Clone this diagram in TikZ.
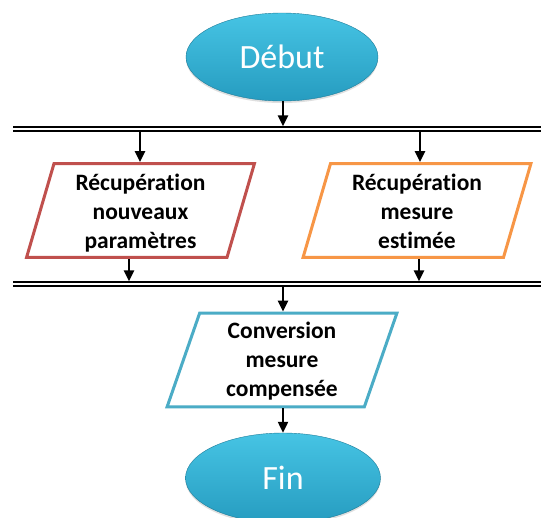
\documentclass[tikz,border=0pt]{standalone}
\usepackage{fontspec}
\setmainfont{Carlito}[Ligatures=NoCommon]
\usepackage{tikz}
\usetikzlibrary{arrows.meta,positioning,shapes.geometric,shadows}
\usepackage{xcolor}
\definecolor{cyanclair}{RGB}{70,196,228}
\definecolor{cyanfonce}{RGB}{38,156,192}
\definecolor{bordrouge}{RGB}{192,80,77}
\definecolor{bordorange}{RGB}{247,150,70}
\definecolor{bordbleu}{RGB}{75,172,198}
\newcommand{\blocbas}[2][3pt]{\raisebox{-#1}[\height][\depth]{\begin{tabular}{@{}c@{}}#2\end{tabular}}}

\begin{document}
\begin{tikzpicture}[x=1pt,y=-1pt,
    terminal/.style={ellipse,minimum width=192pt,minimum height=88pt,inner sep=0pt,
      top color=cyanclair,bottom color=cyanfonce,draw=cyanfonce!80!black,line width=0.4pt,
      drop shadow={opacity=0.25,shadow xshift=0pt,shadow yshift=-2pt},
      text=white,font=\fontsize{34}{40}\selectfont},
    entree/.style={trapezium,trapezium left angle=77,trapezium right angle=103,
      trapezium stretches=true,minimum width=228pt,minimum height=89pt,
      fill=white,line width=3pt,align=center,
      font=\fontsize{23.5}{29}\selectfont\bfseries},
    barre/.style={double,double distance=2.2pt,line width=1.6pt},
    fleche/.style={line width=2.2pt,-{Triangle[width=10pt,length=11pt]}}]
    \clip (0,0) rectangle (541,517);
    \fill[white] (0,0) rectangle (541,517);
    % start / end
    \node[terminal] (debut) at (282,57) {Début};
    \node[terminal,minimum width=195pt,minimum height=90pt] (fin) at (283,478) {Fin};
    % inputs
    \node[entree,draw=bordrouge] (gauche) at (140.5,210.5) {\blocbas{Récupération\\nouveaux\\paramètres}};
    \node[entree,draw=bordorange] (droite) at (417,210.5) {\blocbas{Récupération\\mesure\\estimée}};
    \node[entree,draw=bordbleu,minimum width=230pt,minimum height=90pt,
      trapezium left angle=76,trapezium right angle=104] (conversion) at (282,360) {\blocbas[2pt]{Conversion\\mesure\\compensée}};
    % synchronisation bars
    \coordinate (barre1) at (13,129);
    \coordinate (barre2) at (13,284);
    \draw[barre] (barre1) -- (541,129);
    \draw[barre] (barre2) -- (541,284);
    % arrows
    \coordinate (b1g) at (140,129);
    \coordinate (b1d) at (420,129);
    \coordinate (b2g) at (129,284);
    \coordinate (b2d) at (419,284);
    \coordinate (b2c) at (283,284);
    \draw[fleche,shorten >=2.6pt] (debut.south -| b2c) -- (b2c |- barre1);
    \draw[fleche,shorten <=2.6pt] (b1g) -- (b1g |- gauche.north);
    \draw[fleche,shorten <=2.6pt] (b1d) -- (b1d |- droite.north);
    \draw[fleche,shorten >=2.6pt] (b2g |- gauche.south) -- (b2g);
    \draw[fleche,shorten >=2.6pt] (b2d |- droite.south) -- (b2d);
    \draw[fleche,shorten <=2.6pt] (b2c) -- (b2c |- conversion.north);
    \draw[fleche] (b2c |- conversion.south) -- (b2c |- fin.north);
\end{tikzpicture}
\end{document}
